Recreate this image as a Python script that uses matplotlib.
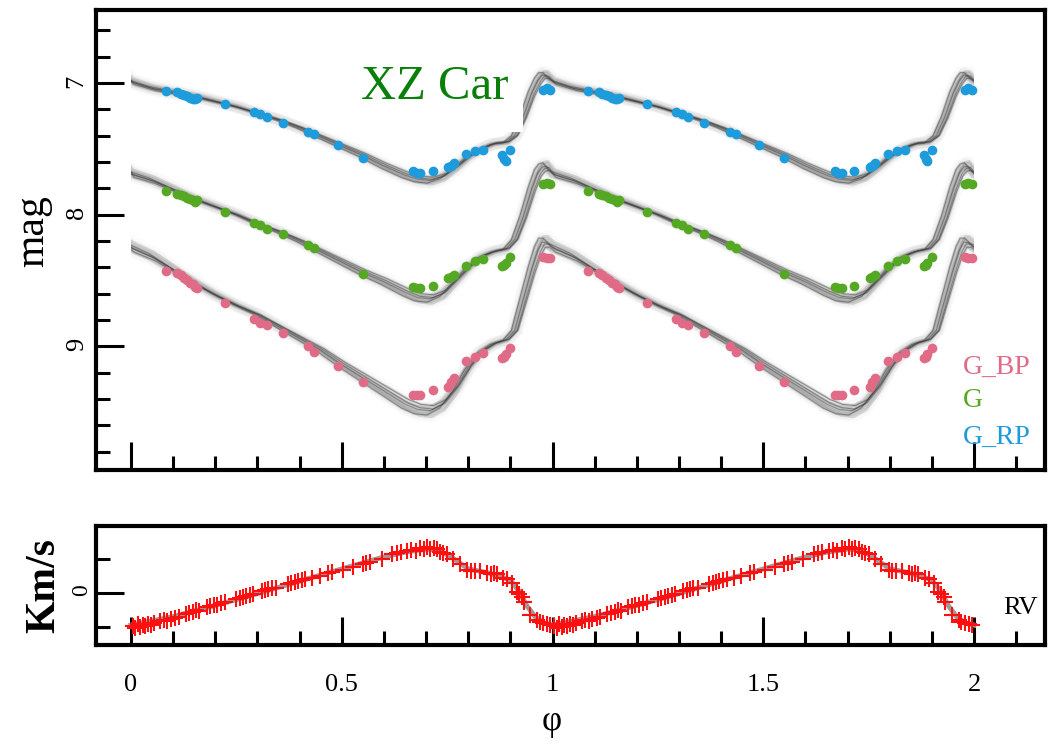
import numpy as np
import matplotlib
matplotlib.use("Agg")
import matplotlib.pyplot as plt
from matplotlib.patches import Rectangle

plt.rcParams['font.family'] = ['Liberation Serif', 'DejaVu Serif']

# ---- observed Gaia photometry (phase, mag) ----
obs_phase = [0.083, 0.110, 0.118, 0.126, 0.133, 0.140, 0.147, 0.152, 0.157, 0.223,
             0.292, 0.306, 0.322, 0.360, 0.420, 0.434, 0.490, 0.550, 0.670, 0.678,
             0.686, 0.716, 0.752, 0.758, 0.766, 0.795, 0.816, 0.835, 0.880, 0.885,
             0.889, 0.900, 0.978, 0.986, 0.994]
mag_rp = [7.06, 7.07, 7.08, 7.09, 7.10, 7.11, 7.12, 7.12, 7.11, 7.16,
          7.22, 7.235, 7.26, 7.30, 7.37, 7.39, 7.47, 7.57, 7.67, 7.68,
          7.68, 7.67, 7.64, 7.63, 7.61, 7.54, 7.52, 7.51, 7.55, 7.58,
          7.59, 7.51, 7.05, 7.04, 7.05]
mag_g = [7.82, 7.84, 7.85, 7.86, 7.87, 7.88, 7.89, 7.90, 7.89, 7.98,
         8.06, 8.08, 8.11, 8.15, 8.23, 8.25, np.nan, 8.45, 8.55, 8.56,
         8.56, 8.54, 8.48, 8.47, 8.46, 8.39, 8.35, 8.34, 8.39, 8.38,
         8.37, 8.32, 7.77, 7.76, 7.77]
mag_bp = [8.43, 8.44, 8.46, 8.48, 8.50, 8.52, 8.53, 8.55, 8.56, 8.67,
          8.79, 8.82, 8.84, 8.90, 9.00, 9.04, 9.15, 9.27, 9.37, 9.37,
          9.37, 9.33, 9.31, 9.27, 9.24, 9.11, 9.08, 9.05, 9.09, 9.08,
          9.06, 9.01, 8.32, 8.33, 8.33]

# ---- model templates (one cycle) ----
model_phase = [0.00, 0.05, 0.10, 0.15, 0.20, 0.25, 0.30, 0.35, 0.40, 0.45,
               0.50, 0.55, 0.60, 0.65, 0.68, 0.71, 0.74, 0.77, 0.80, 0.83,
               0.86, 0.89, 0.91, 0.93, 0.95, 0.965, 0.975, 0.985, 1.00]
model_rp = [6.99, 7.04, 7.07, 7.10, 7.14, 7.18, 7.23, 7.28, 7.34, 7.41,
            7.48, 7.55, 7.63, 7.70, 7.73, 7.74, 7.71, 7.64, 7.56, 7.50,
            7.46, 7.45, 7.40, 7.26, 7.08, 6.98, 6.94, 6.94, 6.99]
model_g = [7.69, 7.74, 7.81, 7.88, 7.94, 8.00, 8.07, 8.13, 8.20, 8.28,
           8.36, 8.44, 8.51, 8.59, 8.63, 8.64, 8.60, 8.50, 8.40, 8.32,
           8.28, 8.26, 8.19, 8.02, 7.81, 7.68, 7.64, 7.63, 7.69]
model_bp = [8.25, 8.32, 8.42, 8.52, 8.61, 8.69, 8.76, 8.85, 8.94, 9.03,
            9.14, 9.24, 9.34, 9.44, 9.48, 9.49, 9.44, 9.32, 9.16, 9.04,
            8.98, 8.95, 8.88, 8.65, 8.42, 8.27, 8.21, 8.21, 8.25]
# ensemble of fits: phase shift and amplitude factor per realisation
model_dphi = [-0.008, -0.004, 0.0, 0.004, 0.008, -0.006, 0.006, 0.002]
model_amp = [1.05, 0.96, 1.0, 1.07, 0.94, 1.02, 0.98, 1.04]

# ---- radial velocities ----
rv_phase = [0.004, 0.010, 0.016, 0.022, 0.028, 0.034, 0.041, 0.048, 0.055,
            0.070, 0.078, 0.086, 0.094, 0.105, 0.113,
            0.130, 0.138, 0.147, 0.155, 0.162,
            0.180, 0.188, 0.196, 0.205, 0.214, 0.224,
            0.250, 0.258, 0.266, 0.274, 0.283, 0.290,
            0.310, 0.318, 0.326, 0.334, 0.344,
            0.372, 0.380, 0.388, 0.396, 0.405, 0.414,
            0.430, 0.448, 0.468, 0.478,
            0.503, 0.527, 0.550, 0.558, 0.567,
            0.595, 0.620, 0.630, 0.640,
            0.655, 0.665, 0.675, 0.686, 0.694, 0.702, 0.710, 0.718, 0.726,
            0.733, 0.741, 0.750, 0.764, 0.780,
            0.797, 0.806, 0.815, 0.828,
            0.845, 0.853, 0.860, 0.868,
            0.883, 0.892, 0.904,
            0.915, 0.921, 0.928, 0.932,
            0.947, 0.963, 0.970, 0.978, 0.987, 0.994]
rv_vel = [-19.5, -20.5, -18.5, -20.0, -19.0, -19.8, -18.2, -19.0, -17.8,
          -16.5, -15.8, -16.8, -15.2, -14.6, -14.0,
          -12.6, -11.8, -11.2, -10.4, -10.8,
          -8.6, -8.0, -7.4, -7.0, -6.2, -5.6,
          -3.6, -3.0, -2.6, -2.0, -1.6, -1.0,
          0.8, 1.4, 2.0, 2.6, 3.0,
          5.2, 5.6, 6.4, 6.8, 7.2, 7.8,
          8.8, 10.0, 11.4, 12.0,
          13.4, 15.0, 16.8, 17.2, 17.8,
          20.0, 22.6, 23.4, 24.0,
          24.6, 25.2, 24.8, 26.0, 25.4, 26.6, 25.8, 26.2, 25.6,
          24.2, 23.4, 22.6, 20.0, 17.0,
          13.6, 13.0, 12.6, 12.8,
          11.8, 11.2, 11.6, 10.8,
          8.8, 8.2, 5.6,
          0.4, -1.0, -2.6, -5.4,
          -12.8, -16.0, -17.0, -17.6, -18.4, -19.0]
rv_model_phase = [0.0, 0.1, 0.2, 0.3, 0.4, 0.5, 0.6, 0.65, 0.7, 0.73, 0.76,
                  0.8, 0.85, 0.9, 0.92, 0.94, 0.96, 0.98, 1.0]
rv_model = [-19.0, -14.0, -7.5, -0.5, 6.8, 14.0, 21.0, 23.8, 25.6, 25.0, 21.0,
            14.0, 11.5, 7.5, 1.0, -8.0, -14.5, -17.8, -19.0]

c_bp, c_g, c_rp = '#E06B86', '#55A824', '#1E9BDB'


def style_axes(ax):
    for sp in ax.spines.values():
        sp.set_linewidth(3)
    ax.tick_params(which='major', direction='in', length=20, width=2.2,
                   labelsize=19, pad=10)
    ax.tick_params(which='minor', direction='in', length=10, width=2.2)
    ax.tick_params(axis='y', labelrotation=90, pad=6)
    ax.set_xlim(-0.083, 2.168)
    ax.set_xticks([0, 0.5, 1, 1.5, 2])
    ax.set_xticks(np.arange(0.1, 2.15, 0.1), minor=True)


def tiled(ph, vals):
    ph = np.asarray(ph)
    vals = np.asarray(vals)
    x = np.concatenate([ph[:-1] - 1, ph[:-1], ph[:-1] + 1, ph + 2])
    y = np.concatenate([vals[:-1], vals[:-1], vals[:-1], vals])
    return x, y


fig = plt.figure(figsize=(10.5, 7.48), dpi=100)
ax1 = fig.add_axes([0.0914, 0.3717, 0.9038, 0.6149])
ax2 = fig.add_axes([0.0914, 0.1377, 0.9038, 0.1591])

# ---------------- light curves ----------------
style_axes(ax1)
ax1.set_ylim(9.94, 6.445)
ax1.set_yticks([7, 8, 9])
ax1.set_yticks(np.arange(6.6, 9.85, 0.2), minor=True)
ax1.tick_params(axis='x', labelbottom=False)

clip1 = Rectangle((0, 6.0), 2, 4.5, transform=ax1.transData)
for model in [model_rp, model_g, model_bp]:
    mean = np.mean(model)
    x, y = tiled(model_phase, model)
    for i, (d, a) in enumerate(zip(model_dphi, model_amp)):
        yy = mean + a * (y - mean)
        halo, = ax1.plot(x + d, yy, color='#9a9a9a', lw=8, alpha=0.035,
                         solid_capstyle='round', zorder=1)
        mid, = ax1.plot(x + d, yy, color='#8c8c8c', lw=2.0, alpha=0.3, zorder=2)
        arts = [halo, mid]
        if i % 2 == 0:
            line, = ax1.plot(x + d, yy, color='#3a3a3a', lw=0.8, alpha=0.45, zorder=3)
            arts.append(line)
        for art in arts:
            art.set_clip_path(clip1)

for mags, col in [(mag_rp, c_rp), (mag_g, c_g), (mag_bp, c_bp)]:
    for k in (0, 1):
        ax1.plot(np.asarray(obs_phase) + k, mags, 'o', color=col, ms=7,
                 mec='none', zorder=4)

ax1.add_patch(Rectangle((0.52, 6.60), 0.41, 0.773, facecolor='white',
                        edgecolor='none', zorder=5))
ax1.text(0.545, 7.12, 'XZ Car', color='#0A7F0A', fontsize=35, zorder=6,
         ha='left', va='baseline')

ax1.text(1.974, 9.16, 'G_BP', color=c_bp, fontsize=20, va='center')
ax1.text(1.974, 9.41, 'G', color=c_g, fontsize=20, va='center')
ax1.text(1.974, 9.69, 'G_RP', color=c_rp, fontsize=20, va='center')

ax1.set_ylabel('mag', fontsize=30)
ax1.yaxis.set_label_coords(-0.046, 0.52)

# ---------------- radial velocity ----------------
style_axes(ax2)
ax2.set_ylim(-30.7, 39.2)
ax2.set_yticks([0])
ax2.set_yticks([-20, 20], minor=True)
ax2.tick_params(axis='x', pad=21)
ax2.tick_params(axis='y', pad=3, labelsize=17)

ax2.plot(rv_model_phase, rv_model, color='#9a9a9a', lw=3.5, zorder=2)
ax2.plot(np.asarray(rv_model_phase) + 1, rv_model, color='#9a9a9a', lw=3.5, zorder=2)
for k in (0, 1):
    ax2.plot(np.asarray(rv_phase) + k, rv_vel, '+', color='#FF1010', ms=12,
             mew=1.5, zorder=3)
ax2.text(2.11, -9, 'RV', color='black', fontsize=19, ha='center', va='center')

ax2.set_xticklabels(['0', '0.5', '1', '1.5', '2'])
ax2.set_ylabel('Km/s', fontsize=30, fontweight='bold')
ax2.yaxis.set_label_coords(-0.035, 0.5)
ax2.set_xlabel('φ', fontsize=25)
ax2.xaxis.set_label_coords(0.48, -0.50)

fig.savefig('out.png', dpi=100)
